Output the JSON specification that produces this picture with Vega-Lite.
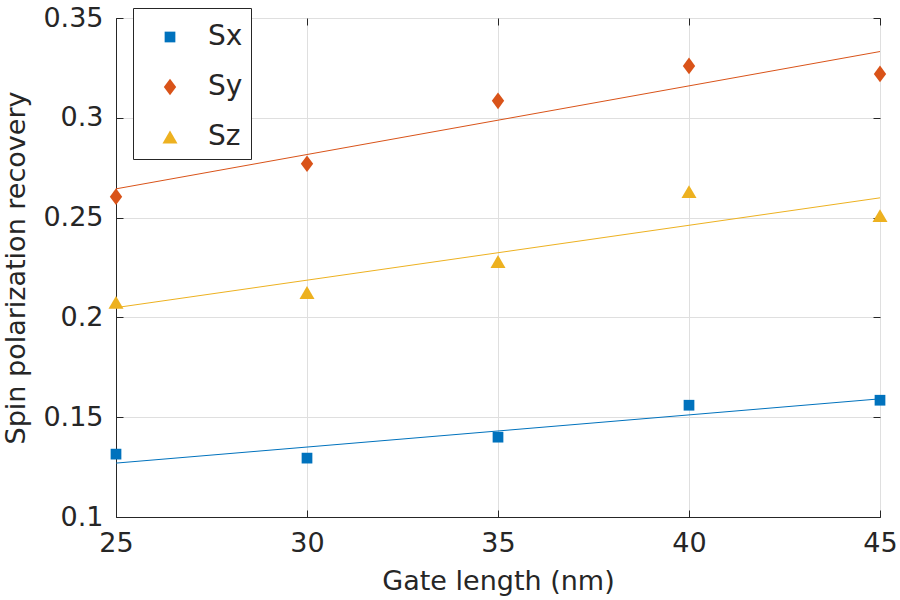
{
  "$schema": "https://vega.github.io/schema/vega-lite/v6.json",
  "width": 764,
  "height": 499,
  "autosize": "none",
  "padding": {"left": 116, "top": 18, "right": 20, "bottom": 83},
  "background": "white",
  "config": {
    "font": "DejaVu Sans",
    "view": {"stroke": "#262626", "strokeWidth": 1},
    "axis": {
      "labelFont": "DejaVu Sans",
      "titleFont": "DejaVu Sans",
      "labelFontSize": 27,
      "titleFontSize": 27,
      "labelColor": "#262626",
      "titleColor": "#262626",
      "titleFontWeight": "normal",
      "domainColor": "#262626",
      "tickColor": "#262626",
      "gridColor": "#dfdfdf",
      "tickSize": -7,
      "labelFlush": false
    },
    "legend": {
      "orient": "none",
      "legendX": 17,
      "legendY": -10,
      "fillColor": "white",
      "strokeColor": "#262626",
      "padding": 8,
      "symbolOffset": 15,
      "labelFontSize": 28,
      "labelFont": "DejaVu Sans",
      "labelColor": "#262626",
      "labelOffset": 24,
      "rowPadding": 22,
      "symbolSize": 115,
      "symbolStrokeWidth": 0,
      "titleFontSize": 5,
      "titlePadding": 2
    }
  },
  "data": {
    "values": [
      {"gate": 25, "value": 0.1315, "series": "Sx"},
      {"gate": 30, "value": 0.1295, "series": "Sx"},
      {"gate": 35, "value": 0.1400, "series": "Sx"},
      {"gate": 40, "value": 0.1560, "series": "Sx"},
      {"gate": 45, "value": 0.1585, "series": "Sx"},
      {"gate": 25, "value": 0.2605, "series": "Sy"},
      {"gate": 30, "value": 0.2770, "series": "Sy"},
      {"gate": 35, "value": 0.3085, "series": "Sy"},
      {"gate": 40, "value": 0.3260, "series": "Sy"},
      {"gate": 45, "value": 0.3220, "series": "Sy"},
      {"gate": 25, "value": 0.2075, "series": "Sz"},
      {"gate": 30, "value": 0.2125, "series": "Sz"},
      {"gate": 35, "value": 0.2280, "series": "Sz"},
      {"gate": 40, "value": 0.2630, "series": "Sz"},
      {"gate": 45, "value": 0.2510, "series": "Sz"}
    ]
  },
  "layer": [
    {
      "transform": [
        {"regression": "value", "on": "gate", "groupby": ["series"], "extent": [25, 45]}
      ],
      "mark": {"type": "line", "strokeWidth": 1, "clip": true},
      "encoding": {
        "x": {
          "field": "gate", "type": "quantitative",
          "scale": {"domain": [25, 45], "nice": false, "zero": false},
          "axis": {"orient": "bottom", "title": "Gate length (nm)", "values": [25, 30, 35, 40, 45], "labelPadding": 20, "titlePadding": 12, "grid": true}
        },
        "y": {
          "field": "value", "type": "quantitative",
          "scale": {"domain": [0.1, 0.35], "nice": false, "zero": false},
          "axis": {"orient": "left", "title": "Spin polarization recovery", "values": [0.1, 0.15, 0.2, 0.25, 0.3, 0.35], "format": ".2~f", "labelPadding": 20, "titlePadding": 12, "grid": true}
        },
        "color": {
          "field": "series", "type": "nominal",
          "scale": {"domain": ["Sx", "Sy", "Sz"], "range": ["#0072BD", "#D95319", "#EDB120"]},
          "legend": {"title": " "}
        }
      }
    },
    {
      "mark": {"type": "point", "filled": true, "opacity": 1, "size": 115, "clip": false},
      "encoding": {
        "x": {
          "field": "gate", "type": "quantitative",
          "scale": {"domain": [25, 45], "nice": false, "zero": false},
          "axis": {"orient": "top", "labels": false, "title": null, "grid": false, "domain": false, "values": [25, 30, 35, 40, 45]}
        },
        "y": {
          "field": "value", "type": "quantitative",
          "scale": {"domain": [0.1, 0.35], "nice": false, "zero": false},
          "axis": {"orient": "right", "labels": false, "title": null, "grid": false, "domain": false, "values": [0.1, 0.15, 0.2, 0.25, 0.3, 0.35]}
        },
        "color": {
          "field": "series", "type": "nominal",
          "scale": {"domain": ["Sx", "Sy", "Sz"], "range": ["#0072BD", "#D95319", "#EDB120"]},
          "legend": {"title": " "}
        },
        "shape": {
          "field": "series", "type": "nominal",
          "scale": {"domain": ["Sx", "Sy", "Sz"], "range": ["square", "M0,-1.55L1.15,0L0,1.55L-1.15,0Z", "M0,-1.2L1.4,1.2L-1.4,1.2Z"]},
          "legend": {"title": " "}
        }
      }
    }
  ],
  "resolve": {"axis": {"x": "independent", "y": "independent"}}
}
